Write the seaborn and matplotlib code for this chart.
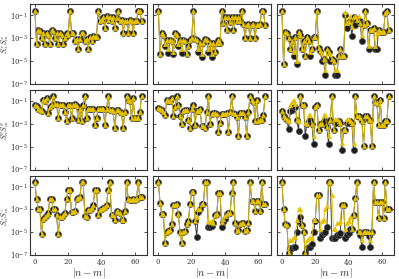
import numpy as np
import pandas as pd
import matplotlib
matplotlib.use("Agg")
import matplotlib.pyplot as plt
import matplotlib.ticker as mticker
import seaborn as sns

# distance |n-m|
dist = list(range(65))

# ---- row 1: S^x S^x ----
sx_exact_a = [0.25, 3e-4, 5e-3, 4e-3, 1e-3, 2.5e-3, 3e-4, 3e-3, 2e-3, 3e-4,
              5e-3, 4e-3, 1e-3, 2.5e-3, 3e-4, 3e-3, 2e-3, 3e-4, 1e-3, 2.5e-3,
              2e-3, 0.25, 3e-3, 3e-3, 5e-4, 9e-4, 1.2e-4, 9e-4, 3e-3, 2.5e-3,
              5e-4, 9e-4, 1.2e-4, 1.2e-3, 6e-4, 1.5e-3, 1.2e-3, 1.2e-3, 0.25, 0.03,
              0.04, 0.07, 8e-3, 0.08, 0.04, 0.07, 0.03, 0.07, 8e-3, 0.06,
              0.25, 0.03, 0.04, 3e-3, 0.03, 0.03, 3e-3, 0.04, 0.03, 3e-3,
              0.03, 0.03, 0.25, 0.25, 0.03]
sx_exact_b = [0.25, 3.7e-5, 2.7e-3, 2e-3, 1.9e-4, 7e-4, 5e-5, 7e-4, 5e-4, 3.7e-5,
              2.7e-3, 2e-3, 1.9e-4, 7e-4, 5e-5, 7e-4, 5e-4, 3.7e-5, 1.9e-4, 7e-4,
              1e-3, 0.25, 8.7e-4, 7e-4, 6.3e-5, 3.7e-4, 2.3e-5, 3.7e-4, 8.7e-4, 7e-4,
              6.3e-5, 3.7e-4, 2.3e-5, 3.7e-4, 6.3e-5, 3.7e-4, 7e-4, 3.7e-4, 0.25, 0.022,
              0.07, 5e-3, 0.07, 0.027, 0.07, 5e-3, 0.07, 0.03, 0.07, 0.03,
              0.25, 0.017, 1e-3, 0.014, 0.017, 1e-3, 0.014, 0.017, 1e-3, 0.014,
              0.014, 0.017, 0.25, 0.25, 0.014]
sx_model_b = [0.25, 3.7e-5, 2.7e-3, 2e-3, 3e-4, 7e-4, 1e-4, 7e-4, 5e-4, 6e-5,
              2.7e-3, 2e-3, 3e-4, 7e-4, 1e-4, 7e-4, 5e-4, 3.7e-5, 1.9e-4, 7e-4,
              1e-3, 0.25, 8.7e-4, 7e-4, 1e-4, 3.7e-4, 4e-5, 3.7e-4, 8.7e-4, 7e-4,
              1e-4, 3.7e-4, 4e-5, 3.7e-4, 6.3e-5, 3.7e-4, 7e-4, 3.7e-4, 0.25, 0.022,
              0.07, 5e-3, 0.07, 0.027, 0.07, 5e-3, 0.07, 0.03, 0.07, 0.03,
              0.25, 0.017, 1e-3, 0.014, 0.017, 1e-3, 0.014, 0.017, 1e-3, 0.014,
              0.014, 0.017, 0.25, 0.25, 0.014]
sx_exact_c = [0.25, 5e-6, 3.7e-3, 2.7e-3, 1e-3, 1e-4, 5e-4, 2.7e-5, 1.2e-3, 5e-6,
              3.7e-3, 2e-3, 1e-4, 5e-4, 2.7e-5, 1.2e-3, 5e-4, 2.7e-5, 1e-4, 1.2e-3,
              1.2e-3, 0.25, 1.4e-4, 7e-5, 1e-5, 1.4e-5, 6e-7, 1e-4, 6e-5, 1e-5,
              1.4e-5, 1e-5, 6e-7, 6e-7, 2.7e-5, 1.2e-4, 2.7e-5, 2.7e-5, 0.1, 7e-3,
              0.027, 0.027, 1.4e-3, 0.07, 0.014, 0.04, 0.037, 0.02, 5e-4, 0.014,
              0.25, 0.02, 1e-4, 5e-3, 5e-3, 7e-3, 1e-4, 1e-4, 5e-3, 3.7e-3,
              3.7e-3, 3.7e-3, 0.14, 0.25, 5e-3]
sx_model_c = [0.25, 5e-6, 3.7e-3, 2.7e-3, 1e-3, 1e-4, 5e-4, 6e-5, 1.2e-3, 1e-5,
              3.7e-3, 2e-3, 1e-4, 5e-4, 2.7e-5, 1.2e-3, 5e-4, 6e-5, 1e-4, 1.2e-3,
              1.2e-3, 0.25, 1.4e-4, 7e-5, 5e-5, 1.4e-5, 1.5e-6, 1e-4, 6e-5, 4e-5,
              1.4e-5, 1e-5, 1.5e-6, 1.5e-6, 2.7e-5, 1.2e-4, 2.7e-5, 2.7e-5, 0.2, 0.02,
              0.027, 0.08, 0.01, 0.07, 0.08, 0.04, 0.08, 0.02, 2e-3, 0.014,
              0.25, 0.02, 2e-4, 5e-3, 5e-3, 7e-3, 2e-4, 3e-3, 5e-3, 3.7e-3,
              3.7e-3, 3.7e-3, 0.14, 0.25, 5e-3]

# ---- row 2: S^y S^y ----
sy_exact_a = [0.045, 0.035, 0.02, 0.015, 0.012, 0.12, 0.1, 0.17, 8.5e-3, 0.03,
              0.045, 0.25, 0.05, 0.05, 3e-3, 0.04, 0.045, 0.045, 0.01, 1.6e-3,
              0.045, 0.045, 3e-3, 0.045, 0.05, 0.035, 2e-3, 0.02, 1.6e-3, 0.045,
              0.25, 3e-3, 0.02, 0.02, 0.02, 0.02, 8e-4, 3e-3, 0.02, 0.02,
              0.02, 0.02, 8e-4, 0.02, 0.25, 0.017, 0.015, 0.012, 4e-4, 0.015,
              0.015, 0.01, 8e-3, 4e-4, 0.01, 0.25, 0.12, 0.1, 3e-3, 0.17,
              3e-3, 3e-3, 3e-3, 0.01, 0.25]
sy_exact_b = [0.023, 0.02, 0.015, 0.01, 6e-3, 0.12, 0.1, 0.09, 0.17, 4.3e-3,
              0.03, 0.25, 0.045, 5e-3, 1e-3, 0.012, 0.017, 0.017, 2e-3, 4.2e-4,
              0.02, 0.045, 8e-4, 0.012, 0.012, 0.02, 6e-4, 6e-4, 4.2e-4, 0.01,
              0.25, 1e-3, 7.4e-3, 8.5e-3, 8.5e-3, 7.4e-3, 1.8e-4, 1.1e-3, 7e-3, 7.4e-3,
              7.4e-3, 8.5e-3, 1.8e-4, 0.01, 0.25, 8.5e-3, 7.4e-3, 3.8e-3, 8e-5, 8.5e-3,
              8.5e-3, 8.5e-3, 3.8e-3, 8e-5, 0.01, 0.25, 0.12, 0.087, 1.9e-3, 0.12,
              1.9e-3, 2.2e-3, 2.2e-3, 6e-3, 0.25]
sy_model_b = [0.023, 0.02, 0.015, 0.01, 6e-3, 0.12, 0.1, 0.09, 0.17, 4.3e-3,
              0.03, 0.25, 0.045, 5e-3, 1e-3, 0.012, 0.017, 0.017, 2e-3, 4.2e-4,
              0.02, 0.045, 8e-4, 0.012, 0.012, 0.02, 6e-4, 6e-4, 4.2e-4, 0.01,
              0.25, 1e-3, 7.4e-3, 8.5e-3, 8.5e-3, 7.4e-3, 1.8e-4, 1.1e-3, 7e-3, 7.4e-3,
              7.4e-3, 8.5e-3, 1.8e-4, 0.01, 0.25, 8.5e-3, 7.4e-3, 3.8e-3, 8e-5, 8.5e-3,
              8.5e-3, 8.5e-3, 3.8e-3, 8e-5, 0.01, 0.25, 0.12, 0.087, 1.9e-3, 0.12,
              1.9e-3, 2.2e-3, 2.2e-3, 6e-3, 0.25]
sy_exact_c = [0.012, 5e-3, 3e-3, 2e-3, 3.5e-4, 0.012, 0.017, 0.03, 0.03, 2e-3,
              2.5e-4, 0.25, 0.045, 0.045, 9e-5, 1e-3, 1.6e-3, 2e-3, 1e-3, 1.7e-5,
              0.03, 0.045, 3e-4, 1e-3, 1e-3, 1.6e-3, 1.6e-3, 5e-4, 1.7e-5, 2e-3,
              0.25, 3e-4, 1.1e-3, 1.1e-3, 1.6e-3, 1.1e-3, 4.8e-6, 3e-4, 3e-4, 1.1e-3,
              1.1e-3, 1.6e-3, 1.1e-3, 4.8e-6, 0.25, 4.3e-3, 4.3e-3, 3e-3, 1.6e-3, 1.2e-5,
              4.3e-3, 4.3e-3, 2.2e-3, 2.2e-3, 1.2e-5, 0.25, 0.087, 0.06, 8e-4, 0.12,
              8e-4, 8e-4, 1.6e-3, 1.6e-3, 0.25]
sy_model_c = [0.012, 5e-3, 3e-3, 2e-3, 1.6e-3, 0.04, 0.087, 0.12, 0.05, 2e-3,
              1.6e-3, 0.25, 0.045, 0.045, 1.1e-3, 1e-3, 6e-3, 6e-3, 1e-3, 8e-5,
              0.03, 0.045, 3e-4, 1e-3, 1e-3, 6e-3, 6e-3, 5e-4, 8e-5, 2e-3,
              0.25, 3e-4, 2.5e-3, 2.5e-3, 1.6e-3, 1.1e-3, 2e-5, 3e-4, 3e-4, 2.5e-3,
              2.5e-3, 1.6e-3, 1.1e-3, 2e-5, 0.25, 4.3e-3, 4.3e-3, 3e-3, 1.6e-3, 1.2e-5,
              4.3e-3, 4.3e-3, 2.2e-3, 2.2e-3, 1.2e-5, 0.25, 0.087, 0.06, 8e-4, 0.12,
              8e-4, 8e-4, 1.6e-3, 1.6e-3, 0.25]

# ---- row 3: S^z S^z ----
sz_exact_a = [0.25, 9e-3, 1.2e-3, 1.1e-3, 7e-6, 1.5e-4, 2e-4, 3e-4, 4.5e-4, 9e-3,
              9e-3, 1.2e-3, 1e-3, 3e-4, 7e-6, 2e-4, 2e-4, 3e-4, 4.5e-4, 9e-3,
              0.05, 0.05, 6e-4, 6e-4, 7e-4, 9e-3, 0.01, 0.012, 0.25, 0.25,
              2.5e-4, 2.3e-4, 9e-4, 9e-4, 1.4e-3, 2.4e-3, 0.05, 0.05, 3e-4, 9e-4,
              1.2e-3, 1.4e-3, 1.7e-3, 2.4e-3, 0.05, 0.25, 3e-4, 3e-4, 1.2e-4, 7e-4,
              6e-4, 4.5e-4, 1.2e-4, 1.2e-4, 7e-4, 0.25, 9e-3, 7e-3, 7e-3, 9e-3,
              7e-3, 9e-3, 0.25, 0.012, 0.012]
sz_exact_b = [0.25, 4e-3, 3.7e-4, 3.7e-4, 1.3e-6, 1.1e-5, 1.3e-5, 1.6e-5, 5e-5, 2.7e-3,
              2.7e-3, 3e-3, 3.7e-4, 1e-5, 1.3e-6, 1.1e-5, 1.3e-5, 5e-5, 1e-4, 3e-3,
              0.035, 0.035, 1e-4, 4e-6, 6e-4, 1e-3, 3e-3, 3e-3, 0.25, 0.25,
              3e-5, 3e-5, 3.5e-5, 6e-5, 3.2e-4, 3.7e-4, 0.025, 0.025, 3e-5, 8e-5,
              1.6e-4, 3.7e-4, 4.5e-4, 4.5e-4, 0.025, 0.25, 6e-5, 1.3e-5, 1.6e-5, 5e-5,
              6e-5, 6e-5, 1.3e-5, 1.6e-5, 6e-5, 0.25, 6e-3, 6e-3, 7.5e-4, 6e-3,
              6e-3, 7.5e-4, 0.25, 3.3e-3, 3.3e-3]
sz_model_b = [0.25, 4e-3, 3.7e-4, 3.7e-4, 1.3e-6, 1.1e-5, 1.3e-5, 1.6e-5, 5e-5, 2.7e-3,
              2.7e-3, 3e-3, 3.7e-4, 1e-5, 1.3e-6, 1.1e-5, 1.3e-5, 5e-5, 1e-4, 3e-3,
              0.035, 0.035, 1e-4, 2e-4, 1e-3, 1e-3, 3e-3, 3e-3, 0.25, 0.25,
              1e-4, 8e-5, 1e-4, 6e-5, 3.2e-4, 3.7e-4, 0.025, 0.025, 8e-5, 1.6e-4,
              2.5e-4, 3.7e-4, 4.5e-4, 4.5e-4, 0.025, 0.25, 6e-5, 1.3e-5, 1.6e-5, 5e-5,
              6e-5, 6e-5, 1.3e-5, 1.6e-5, 6e-5, 0.25, 6e-3, 6e-3, 7.5e-4, 6e-3,
              6e-3, 7.5e-4, 0.25, 3.3e-3, 3.3e-3]
sz_exact_c = [0.25, 1.2e-3, 5e-5, 4.5e-5, 1.5e-7, 4e-7, 4e-7, 5.5e-7, 5.5e-7, 1e-5,
              1e-4, 2e-4, 4.4e-5, 1e-5, 1.5e-7, 4e-7, 5.5e-7, 5.5e-7, 1e-6, 1e-5,
              1e-4, 0.02, 0.018, 3e-6, 6e-6, 8e-6, 1e-5, 3e-5, 0.25, 0.25,
              3e-6, 3e-6, 3e-6, 6e-6, 6e-6, 8e-6, 2.4e-3, 2.4e-3, 3e-6, 6e-6,
              8e-6, 2e-5, 2e-5, 3.2e-4, 0.01, 0.25, 1.1e-5, 5.5e-6, 5.5e-7, 1.1e-5,
              1.1e-5, 1.1e-5, 5e-6, 5.5e-7, 1e-5, 0.25, 4.8e-3, 4.8e-3, 1.9e-4, 4.8e-3,
              4.8e-3, 1.9e-4, 0.25, 1.2e-3, 1.2e-3]
sz_model_c = [0.25, 1.2e-3, 5e-5, 4.5e-5, 1.5e-7, 2e-6, 2e-6, 4e-6, 4e-6, 1.2e-4,
              1.2e-3, 1.2e-3, 4.4e-5, 1e-5, 1.5e-7, 2e-6, 3e-6, 3e-6, 3e-6, 1.2e-4,
              1.2e-4, 0.02, 0.018, 2e-5, 1e-4, 1.2e-4, 1.2e-3, 2e-3, 0.25, 0.25,
              0.02, 2e-5, 2e-5, 6e-5, 6e-5, 1e-4, 2.4e-3, 2.4e-3, 2e-5, 6e-5,
              1e-4, 2e-4, 2e-5, 3.2e-4, 0.01, 0.25, 1.1e-5, 1e-5, 2e-6, 1.1e-5,
              1.1e-5, 1.1e-5, 1e-5, 2e-6, 1e-5, 0.25, 4.8e-3, 4.8e-3, 1.9e-4, 4.8e-3,
              4.8e-3, 1.9e-4, 0.25, 1.2e-3, 1.2e-3]

panels = [
    [(sx_exact_a, sx_exact_a), (sx_exact_b, sx_model_b), (sx_exact_c, sx_model_c)],
    [(sy_exact_a, sy_exact_a), (sy_exact_b, sy_model_b), (sy_exact_c, sy_model_c)],
    [(sz_exact_a, sz_exact_a), (sz_exact_b, sz_model_b), (sz_exact_c, sz_model_c)],
]
row_labels = [r"$S^x_n S^x_m$", r"$S^y_n S^y_m$", r"$S^z_n S^z_m$"]

GOLD = "#e6c200"
DARK = "#1c1c1c"

sns.set_style("ticks")
plt.rcParams["font.family"] = ["DejaVu Serif"]
plt.rcParams["mathtext.fontset"] = "cm"
plt.rcParams["axes.formatter.use_mathtext"] = True
plt.rcParams["axes.edgecolor"] = "#333333"
plt.rcParams["axes.linewidth"] = 0.8

fig, axes = plt.subplots(3, 3, figsize=(3.99, 2.79), dpi=100, sharex=True, sharey=True)
fig.subplots_adjust(left=0.074, right=0.988, top=0.984, bottom=0.085, wspace=0.05, hspace=0.08)

for i in range(3):
    for j in range(3):
        ax = axes[i, j]
        exact, model = panels[i][j]
        df = pd.DataFrame({"d": dist, "exact": exact, "model": model})
        sns.lineplot(data=df, x="d", y="exact", ax=ax, color="#3a3a3a", lw=0.7,
                     marker="o", markersize=4.4, markerfacecolor=DARK,
                     markeredgecolor="#555555", markeredgewidth=0.5, estimator=None)
        sns.lineplot(data=df, x="d", y="model", ax=ax, color=GOLD, lw=0.6,
                     marker="^", markersize=3.2, markerfacecolor=GOLD,
                     markeredgecolor=GOLD, markeredgewidth=0.3, estimator=None)
        ax.set_yscale("log")
        ax.set_ylim(1e-7, 0.85)
        ax.set_xlim(-3.2, 67.4)
        ax.yaxis.set_major_locator(mticker.FixedLocator([1e-7, 1e-5, 1e-3, 1e-1]))
        ax.yaxis.set_minor_locator(mticker.NullLocator())
        ax.set_xticks([0, 20, 40, 60])
        ax.tick_params(direction="in", length=2, width=0.6, top=True, right=True,
                       labelsize=5, pad=1.2, colors="#333333")
        if i == 2:
            ax.set_xlabel(r"$|n-m|$", fontsize=7.5, labelpad=-1)
        else:
            ax.set_xlabel("")
        if j == 0:
            ax.set_ylabel(row_labels[i], fontsize=5.5)
            ax.yaxis.set_label_coords(-0.155, 0.5)
        else:
            ax.set_ylabel("")

fig.savefig("out.png", dpi=100)
